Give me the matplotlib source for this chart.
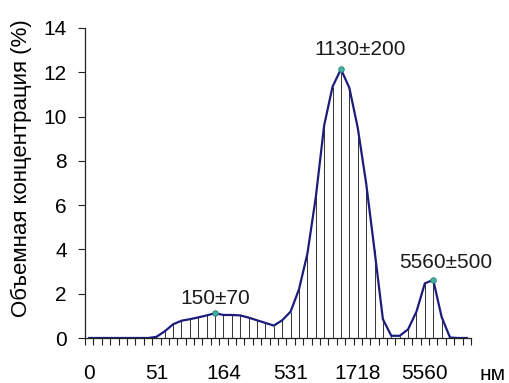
import matplotlib
matplotlib.use("Agg")
import matplotlib.pyplot as plt
import numpy as np

plt.rcParams['font.family'] = ['Liberation Sans', 'DejaVu Sans']

# volume concentration (%) per size class, 46 classes on a log scale
conc = [0, 0, 0, 0, 0, 0, 0, 0, 0.05, 0.3,
        0.62, 0.78, 0.85, 0.93, 1.02, 1.12, 1.04, 1.04, 1.02, 0.92,
        0.8, 0.68, 0.56, 0.8, 1.19, 2.2, 3.8, 6.35, 9.6, 11.35,
        12.14, 11.3, 9.5, 7.0, 3.97, 0.85, 0.1, 0.1, 0.39, 1.19,
        2.47, 2.62, 0.95, 0.02, 0, 0]

tick_idx = [0, 8, 16, 24, 32, 40]
tick_labels = ['0', '51', '164', '531', '1718', '5560']

peak_idx = [15, 30, 41]
peak_labels = ['150±70', '1130±200', '5560±500']
peak_offsets = [(0, 4), (14, 7), (9, 5.5)]  # points

FS = 15

fig = plt.figure(figsize=(5.1, 3.83), dpi=100, facecolor='white')
ax = fig.add_axes([85 / 510, 45 / 383, 386 / 510, 310 / 383])

x = np.arange(len(conc))
ax.vlines(x, 0, conc, color='#3a3a3a', lw=0.75, zorder=1)
ax.plot(x, conc, color='#1c1c7c', lw=1.6, zorder=2)
px = [x[i] for i in peak_idx]
py = [conc[i] for i in peak_idx]
ax.plot(px, py, 'o', ms=4, mfc='#3fb3a0', mec='#2b7f74', mew=0.6, zorder=3)

for i, lab, off in zip(peak_idx, peak_labels, peak_offsets):
    ax.annotate(lab, (x[i], conc[i]), xytext=off, textcoords='offset points',
                ha='center', va='bottom', fontsize=FS, color='#1a1a1a')

ax.set_xlim(-0.5, len(conc) - 0.5)
ax.set_ylim(0, 14)
ax.set_yticks(np.arange(0, 15, 2))
ax.set_xticks(tick_idx)
ax.set_xticklabels(tick_labels)
ax.set_xticks(np.arange(len(conc) + 1) - 0.5, minor=True)

ax.tick_params(axis='x', which='major', length=0, pad=19, labelsize=FS)
ax.tick_params(axis='x', which='minor', length=5, width=0.8, color='#222222')
ax.tick_params(axis='y', length=5, width=0.8, pad=8, labelsize=FS, color='#222222')

for s in ['top', 'right']:
    ax.spines[s].set_visible(False)
for s in ['left', 'bottom']:
    ax.spines[s].set_color('#222222')
    ax.spines[s].set_linewidth(0.9)

ax.set_ylabel('Объемная концентрация (%)', fontsize=16)
ax.yaxis.set_label_coords(-0.137, 0.548)
ax.text(1.057, -0.118, 'нм', transform=ax.transAxes, ha='center', va='center',
        fontsize=FS)

fig.savefig('out.png', dpi=100, facecolor='white')
